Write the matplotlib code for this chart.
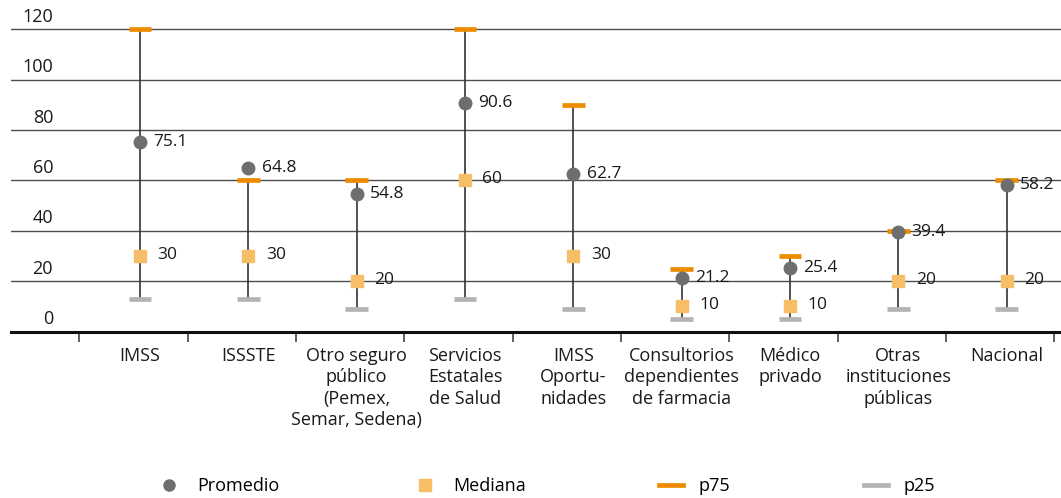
import numpy as np
import matplotlib.pyplot as plt
from matplotlib.lines import Line2D

plt.rcParams['font.family'] = ['Open Sans', 'DejaVu Sans']

categorias = ['IMSS', 'ISSSTE', 'Otro seguro\npúblico\n(Pemex,\nSemar, Sedena)',
              'Servicios\nEstatales\nde Salud', 'IMSS\nOportu-\nnidades',
              'Consultorios\ndependientes\nde farmacia', 'Médico\nprivado',
              'Otras\ninstituciones\npúblicas', 'Nacional']
promedio = [75.1, 64.8, 54.8, 90.6, 62.7, 21.2, 25.4, 39.4, 58.2]
mediana = [30, 30, 20, 60, 30, 10, 10, 20, 20]
p75 = [120, 60, 60, 120, 90, 25, 30, 40, 60]
p25 = [13, 13, 9, 13, 9, 5, 5, 9, 9]
yticks = [0, 20, 40, 60, 80, 100, 120]

c_prom = '#6e6e6e'
c_med = '#f7be68'
c_p75 = '#ee8c00'
c_p25 = '#b4b4b4'

fig = plt.figure(figsize=(10.61, 4.98), dpi=100)
ax = fig.add_axes([0.0104, 0.334, 0.9896, 0.658])

x = np.arange(len(categorias))
hw = 0.105

ax.vlines(x, p25, p75, color='#333333', lw=1.2, zorder=2)
ax.hlines(p75, x - hw, x + hw, color=c_p75, lw=3.4, zorder=3)
ax.hlines(p25, x - hw, x + hw, color=c_p25, lw=3.4, zorder=3)
ax.plot(x, promedio, 'o', color=c_prom, ms=9, zorder=4, ls='none')
ax.plot(x, mediana, 's', color=c_med, ms=9.3, zorder=4, ls='none')

for xi, m, md in zip(x, promedio, mediana):
    ax.annotate(f'{m:g}', (xi, m), xytext=(9.5, 0), textcoords='offset points',
                ha='left', va='center', fontsize=12.5, color='#1a1a1a')
    ax.annotate(f'{md:g}', (xi, md), xytext=(12.5, 1), textcoords='offset points',
                ha='left', va='center', fontsize=12.5, color='#1a1a1a')

ax.set_xlim(-1.19, 8.5)
ax.set_ylim(0, 130)

# grid lines with labels sitting above them
for v in yticks:
    if v > 0:
        ax.axhline(v, color='#4d4d4d', lw=1.0, zorder=1)
    ax.annotate(str(v), (0.04, v), xycoords=('axes fraction', 'data'),
                xytext=(0, 2.5), textcoords='offset points',
                ha='right', va='bottom', fontsize=13, color='#1a1a1a')
ax.set_yticks([])

for s in ['top', 'right', 'left']:
    ax.spines[s].set_visible(False)
ax.spines['bottom'].set_linewidth(2.2)
ax.spines['bottom'].set_color('#111111')

ax.set_xticks(x)
ax.set_xticklabels(categorias, fontsize=13, linespacing=1.25, color='#1a1a1a')
ax.tick_params(axis='x', which='major', length=0, pad=11)
ax.set_xticks(np.arange(len(categorias) + 1) - 0.56, minor=True)
ax.tick_params(axis='x', which='minor', length=7, width=1.1, color='#333333')

handles = [
    Line2D([], [], marker='o', color=c_prom, ls='none', ms=8),
    Line2D([], [], marker='s', color=c_med, ls='none', ms=9),
    Line2D([], [], color=c_p75, lw=3.4),
    Line2D([], [], color=c_p25, lw=3.4),
]
fig.legend(handles, ['Promedio', 'Mediana', 'p75', 'p25'], ncol=4,
           loc='center', bbox_to_anchor=(0.515, 0.024), frameon=False,
           fontsize=13, handlelength=1.3, handletextpad=0.9, columnspacing=7.4)

fig.savefig('out.png', dpi=100)
